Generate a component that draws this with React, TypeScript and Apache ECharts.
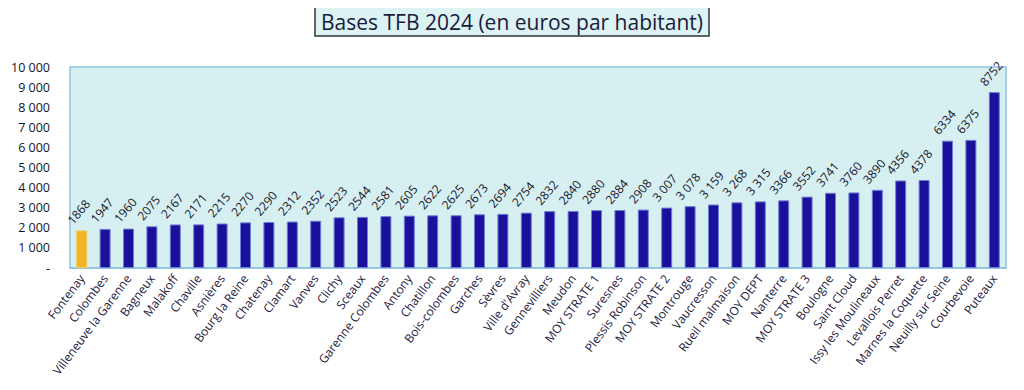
import React, { useEffect, useRef } from "react";
import * as echarts from "echarts";

const categories = [
  "Fontenay", "Colombes", "Villeneuve la Garenne", "Bagneux", "Malakoff", "Chaville",
  "Asnières", "Bourg la Reine", "Chatenay", "Clamart", "Vanves", "Clichy", "Sceaux",
  "Garenne Colombes", "Antony", "Chatillon", "Bois-colombes", "Garches", "Sèvres",
  "Ville d'Avray", "Gennevilliers", "Meudon", "MOY STRATE 1", "Suresnes", "Plessis Robinson",
  "MOY STRATE 2", "Montrouge", "Vaucresson", "Rueil malmaison", "MOY DEPT", "Nanterre",
  "MOY STRATE 3", "Boulogne", "Saint Cloud", "Issy les Moulineaux", "Levallois Perret",
  "Marnes la Coquette", "Neuilly sur Seine", "Courbevoie", "Puteaux",
];

const values = [
  1868, 1947, 1960, 2075, 2167, 2171, 2215, 2270, 2290, 2312, 2352, 2523, 2544, 2581,
  2605, 2622, 2625, 2673, 2694, 2754, 2832, 2840, 2880, 2884, 2908, 3007, 3078, 3159,
  3268, 3315, 3366, 3552, 3741, 3760, 3890, 4356, 4378, 6334, 6375, 8752,
];

// value labels as printed (some with a thousands space)
const valueLabels = [
  "1868", "1947", "1960", "2075", "2167", "2171", "2215", "2270", "2290", "2312", "2352",
  "2523", "2544", "2581", "2605", "2622", "2625", "2673", "2694", "2754", "2832", "2840",
  "2880", "2884", "2908", "3 007", "3 078", "3 159", "3 268", "3 315", "3366", "3552",
  "3741", "3760", "3890", "4356", "4378", "6334", "6375", "8752",
];

const highlighted = ["Fontenay"];

const TITLE = "Bases TFB 2024 (en euros par habitant)";
const FONT = "'Open Sans', 'Noto Sans', sans-serif";

export default function App() {
  const ref = useRef<HTMLDivElement>(null);
  useEffect(() => {
    if (!ref.current) return;
    const chart = echarts.init(ref.current, null, { renderer: "svg" });
    chart.setOption({
      animation: false,
      title: {
        text: TITLE,
        left: "center",
        top: 7,
        backgroundColor: "#dcf2f3",
        borderColor: "#333",
        borderWidth: 1.5,
        padding: [4, 6, 4, 6],
        textStyle: { fontFamily: FONT, fontSize: 21, fontWeight: "normal", color: "#1a1a3c" },
      },
      grid: {
        left: 70,
        right: 18,
        top: 67,
        bottom: 122,
        show: true,
        backgroundColor: "#d6eff1",
        borderColor: "#8ec3e3",
        borderWidth: 1.5,
      },
      xAxis: {
        type: "category",
        data: categories,
        axisLine: { show: true, lineStyle: { color: "#8ec3e3", width: 1.5 } },
        axisTick: { show: false },
        axisLabel: {
          interval: 0,
          rotate: 53,
          margin: 8,
          fontFamily: FONT,
          fontSize: 12,
          color: "#1e2040",
        },
      },
      yAxis: {
        type: "value",
        min: 0,
        max: 10000,
        interval: 1000,
        axisLine: { show: false },
        axisTick: { show: false },
        splitLine: { show: false },
        axisLabel: {
          margin: 20,
          fontFamily: FONT,
          fontSize: 12.5,
          color: "#14142a",
          formatter: (v: number) =>
            v === 0 ? "-" : String(v).replace(/\B(?=(\d{3})+(?!\d))/g, " "),
        },
      },
      series: [
        {
          type: "bar",
          barWidth: "47%",
          data: values.map((v, i) => ({
            value: v,
            itemStyle: {
              color: highlighted.includes(categories[i]) ? "#efb526" : "#1b109c",
              borderColor: highlighted.includes(categories[i]) ? "#f3c860" : "#6f7fd6",
            },
          })),
          itemStyle: { borderWidth: 1 },
          label: {
            show: true,
            position: "top",
            rotate: 50,
            fontFamily: FONT,
            fontSize: 12,
            color: "#14142a",
            formatter: (p: any) => valueLabels[p.dataIndex],
          },
          labelLayout: (p: any) => ({
            x: p.rect.x + p.rect.width / 2 - 12,
            y: p.rect.y - 8,
            align: "left",
            verticalAlign: "middle",
            rotate: 50,
          }),
        },
      ],
    });
    return () => chart.dispose();
  }, []);
  return <div ref={ref} style={{ width: 1024, height: 390, margin: -8 }} />;
}
